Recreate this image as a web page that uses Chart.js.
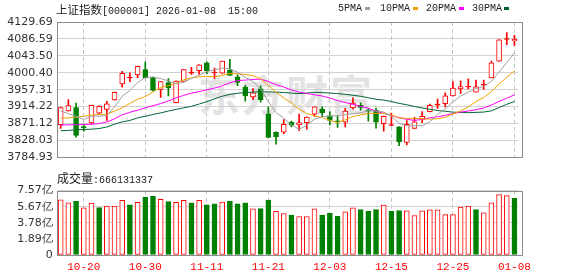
<!DOCTYPE html>
<html>
<head>
<meta charset="utf-8">
<script src="https://cdn.jsdelivr.net/npm/chart.js@4/dist/chart.umd.min.js"></script>
<style>
  body { margin: 0; width: 578px; height: 276px; overflow: hidden; position: relative; background: #fff; }
  canvas { position: absolute; left: 0; }
  .txt { position: absolute; white-space: pre; color: #222; }
  .cn { font-family: "Noto Sans CJK SC", sans-serif; }
  .mono { font-family: "Liberation Mono", monospace; font-size: 10px; }
  .sw { position: absolute; width: 5px; height: 3px; }
  #wm { position: absolute; left: 198px; top: 62px; font: bold 42px "Noto Sans CJK SC", sans-serif; color: #e3e3e3; letter-spacing: 2px; }
</style>
</head>
<body>
<div id="wm">东方财富</div>
<canvas id="price" width="578" height="168" style="top:0"></canvas>
<canvas id="vol" width="578" height="96" style="top:180px"></canvas>

<div class="txt" style="left:56px;top:0px;line-height:17px"><span class="cn" style="font-size:11.5px">上证指数</span><span class="mono">[000001] 2026-01-08  15:00</span></div>

<div class="txt mono" style="left:338px;top:1px;line-height:15px">5PMA</div>
<div class="sw" style="left:365px;top:7px;background:#a0a0a0"></div>
<div class="txt mono" style="left:380px;top:1px;line-height:15px">10PMA</div>
<div class="sw" style="left:413px;top:7px;background:#f0a000"></div>
<div class="txt mono" style="left:426px;top:1px;line-height:15px">20PMA</div>
<div class="sw" style="left:459px;top:7px;background:#ff00ff"></div>
<div class="txt mono" style="left:472px;top:1px;line-height:15px">30PMA</div>
<div class="sw" style="left:504px;top:7px;background:#006633"></div>

<div class="txt" style="left:57px;top:169px;line-height:17px"><span class="cn" style="font-size:12px">成交量</span><span class="mono">:666131337</span></div>

<script>
// trading days shown on the chart
const dates = [
  '10-15','10-16','10-17','10-20','10-21','10-22','10-23','10-24','10-27','10-28',
  '10-29','10-30','10-31','11-03','11-04','11-05','11-06','11-07','11-10','11-11',
  '11-12','11-13','11-14','11-17','11-18','11-19','11-20','11-21','11-24','11-25',
  '11-26','11-27','11-28','12-01','12-02','12-03','12-04','12-05','12-08','12-09',
  '12-10','12-11','12-12','12-15','12-16','12-17','12-18','12-19','12-22','12-23',
  '12-24','12-25','12-26','12-29','12-30','12-31','01-05','01-06','01-07','01-08'
];

const opens = [
  3868.58, 3903.06, 3911.98, 3862.00, 3872.44, 3897.51, 3907.15, 3931.26, 3972.25, 3987.00,
  3994.67, 4008.42, 3988.16, 3957.79, 3975.39, 3924.03, 3978.52, 3999.60, 4006.01, 4026.02,
  3999.80, 3999.50, 4007.45, 3989.85, 3964.05, 3939.22, 3959.23, 3895.82, 3849.29, 3849.29,
  3874.85, 3867.61, 3873.40, 3895.10, 3907.88, 3891.00, 3878.22, 3874.85, 3911.01, 3917.52,
  3905.00, 3905.47, 3870.99, 3866.20, 3862.79, 3822.77, 3858.93, 3881.36, 3901.37, 3918.00,
  3921.62, 3941.63, 3959.23, 3964.20, 3951.28, 3968.60, 3987.44, 4030.12, 4085.20, 4082.00
];
const highs = [
  3913.00, 3931.99, 3923.07, 3869.30, 3918.00, 3916.00, 3927.89, 3951.00, 4004.32, 4000.22,
  4017.50, 4028.43, 3989.50, 3978.30, 3985.75, 3980.00, 4009.00, 4013.96, 4021.00, 4028.43,
  4012.27, 4030.50, 4034.94, 3995.40, 3968.15, 3960.20, 3967.43, 3913.42, 3850.00, 3881.36,
  3877.26, 3895.10, 3888.00, 3914.00, 3913.42, 3901.37, 3891.00, 3909.57, 3936.81, 3924.03,
  3909.57, 3910.29, 3890.00, 3897.51, 3863.50, 3878.95, 3886.90, 3901.37, 3920.66, 3933.68,
  3949.59, 3977.80, 3980.21, 3985.03, 3981.90, 3981.90, 4030.12, 4085.00, 4102.45, 4095.94
];
const lows = [
  3858.93, 3902.50, 3836.27, 3851.70, 3869.30, 3896.00, 3878.95, 3930.50, 3964.05, 3977.80,
  3988.16, 3987.00, 3954.00, 3937.53, 3941.63, 3923.50, 3978.00, 3996.36, 3996.36, 3997.81,
  3985.75, 3999.00, 3993.50, 3967.43, 3927.89, 3931.99, 3925.48, 3834.50, 3818.67, 3845.19,
  3862.79, 3853.15, 3856.52, 3889.31, 3889.31, 3867.61, 3861.35, 3862.79, 3907.88, 3905.47,
  3877.26, 3859.66, 3851.70, 3865.20, 3814.57, 3816.98, 3858.00, 3873.40, 3901.00, 3909.57,
  3913.42, 3941.00, 3948.14, 3959.23, 3951.00, 3957.79, 3987.00, 4029.50, 4071.83, 4070.14
];
const closes = [
  3911.98, 3916.80, 3841.10, 3860.80, 3917.52, 3915.11, 3921.62, 3950.55, 3998.77, 3989.40,
  4017.10, 3987.44, 3955.37, 3977.80, 3961.64, 3979.48, 4008.42, 4001.90, 4020.47, 4006.01,
  4002.00, 4030.12, 3993.95, 3976.11, 3941.63, 3949.59, 3931.99, 3835.55, 3837.24, 3869.30,
  3866.89, 3873.40, 3887.87, 3913.42, 3898.96, 3878.95, 3875.81, 3903.06, 3923.07, 3911.98,
  3902.80, 3874.85, 3889.31, 3868.40, 3825.18, 3869.30, 3875.81, 3889.31, 3917.52, 3920.20,
  3941.63, 3961.64, 3965.02, 3966.40, 3964.30, 3970.80, 4026.02, 4084.60, 4087.40, 4085.40
];

// volume in 亿 shares
const volumes = [
  6.49, 6.12, 6.31, 5.53, 6.09, 5.57, 5.75, 5.75, 6.42, 5.90,
  6.20, 6.79, 6.90, 6.53, 6.27, 6.20, 6.42, 6.12, 6.42, 5.90,
  6.01, 6.23, 6.35, 6.01, 6.12, 5.42, 5.46, 6.46, 5.12, 4.86,
  4.68, 4.53, 4.53, 5.42, 4.68, 4.90, 4.56, 5.08, 5.53, 5.34,
  5.12, 5.34, 5.86, 5.12, 5.23, 5.20, 4.64, 5.20, 5.31, 5.31,
  4.75, 4.75, 5.64, 5.75, 5.34, 4.97, 6.12, 7.09, 6.98, 6.66
];

// moving average values before enough closes are on screen
const ma5Lead = [3903.0, 3896.7, 3889.6, 3881.4];
const ma10Lead = [3884.8, 3885.5, 3887.2, 3889.6, 3892.7, 3894.4, 3895.1, 3902.9, 3911.3];
const ma20Lead = [3867.1, 3868.0, 3868.0, 3868.8, 3869.5, 3871.1, 3875.2, 3883.1, 3893.4, 3899.8,
  3905.4, 3911.1, 3916.6, 3922.1, 3928.6, 3936.5, 3943.0, 3948.5, 3952.5];
const ma30Lead = [3852.7, 3853.6, 3855.1, 3856.0, 3856.8, 3858.4, 3862.3, 3869.5, 3875.2, 3879.1,
  3885.5, 3889.6, 3894.4, 3898.2, 3903.0, 3907.1, 3911.1, 3915.0, 3920.7, 3926.9,
  3934.1, 3940.6, 3945.4, 3948.2, 3950.1, 3951.3, 3952.0, 3951.8, 3951.1];

const priceTicks = ['3784.93','3828.03','3871.12','3914.22','3957.31','4000.40','4043.50','4086.59','4129.69'];
const volTicks = ['0','1.89亿','3.78亿','5.67亿','7.57亿'];

const RED = '#ff0000';
const GREEN = '#008000';

function movingAvg(n, lead) {
  return closes.map((c, i) => {
    if (i < n - 1) return lead[i];
    let s = 0;
    for (let k = i - n + 1; k <= i; k++) s += closes[k];
    return s / n;
  });
}

const isUp = closes.map((c, i) => c >= opens[i]);
const candleColor = isUp.map(u => u ? RED : GREEN);
const bodyFill = closes.map((c, i) => {
  if (!isUp[i]) return GREEN;
  return Math.abs(c - opens[i]) < 3 ? RED : '#ffffff';
});
const volUp = closes.map((c, i) => i === 0 ? isUp[0] : c >= closes[i - 1]);

const labeled = i => (i - 3) % 8 === 0;
const gridX = ctx => labeled(ctx.index) ? '#c4c4c4' : 'rgba(0,0,0,0)';
const axisFont = { family: 'DejaVu Sans', size: 11 };

const frame = {
  id: 'frame',
  afterDraw(chart) {
    const a = chart.chartArea;
    const c = chart.ctx;
    c.save();
    c.strokeStyle = '#8c8c8c';
    c.lineWidth = 1;
    c.strokeRect(Math.round(a.left) + 0.5, Math.round(a.top) + 0.5,
      Math.round(a.right + 4 - a.left), Math.round(a.bottom - a.top));
    c.restore();
  }
};

const lineSet = (label, data, color) => ({
  type: 'line', label, data, borderColor: color, borderWidth: 1,
  pointRadius: 0, tension: 0, order: 0
});

new Chart(document.getElementById('price'), {
  type: 'bar',
  data: {
    labels: dates,
    datasets: [
      lineSet('5PMA', movingAvg(5, ma5Lead), '#a0a0a0'),
      lineSet('10PMA', movingAvg(10, ma10Lead), '#f0a000'),
      lineSet('20PMA', movingAvg(20, ma20Lead), '#ff00ff'),
      lineSet('30PMA', movingAvg(30, ma30Lead), '#006633'),
      {
        label: 'wick', data: lows.map((l, i) => [l, highs[i]]),
        backgroundColor: candleColor, barThickness: 1, grouped: false, order: 2
      },
      {
        label: 'body', data: opens.map((o, i) => [o, closes[i]]),
        backgroundColor: bodyFill, borderColor: candleColor, borderWidth: 1,
        borderSkipped: false, barThickness: 5, minBarLength: 1, grouped: false, order: 1
      }
    ]
  },
  options: {
    responsive: false,
    animation: false,
    layout: { padding: { top: 22, right: 59.7, bottom: 2, left: 0 } },
    plugins: { legend: { display: false }, tooltip: { enabled: false } },
    scales: {
      x: {
        offset: true,
        grid: { offset: false, color: gridX, drawTicks: false },
        border: { display: false, dash: [4, 3] },
        ticks: { display: false, autoSkip: false },
        afterFit: s => { s.height = 0; }
      },
      y: {
        min: 3784.93, max: 4129.69,
        ticks: { stepSize: 43.095, autoSkip: false, callback: (v, i) => priceTicks[i], padding: 4, font: axisFont, color: '#333' },
        grid: { color: '#d2d2d2', drawTicks: false },
        border: { display: false },
        afterFit: s => { s.width = 56.85; }
      }
    }
  },
  plugins: [frame]
});

new Chart(document.getElementById('vol'), {
  type: 'bar',
  data: {
    labels: dates,
    datasets: [{
      label: '成交量', data: volumes,
      backgroundColor: volUp.map(u => u ? '#ffffff' : GREEN),
      borderColor: volUp.map(u => u ? RED : GREEN),
      borderWidth: 1, borderSkipped: false, barThickness: 5
    }]
  },
  options: {
    responsive: false,
    animation: false,
    layout: { padding: { top: 7, right: 59.7, bottom: 0, left: 0 } },
    plugins: { legend: { display: false }, tooltip: { enabled: false } },
    scales: {
      x: {
        offset: true,
        grid: { offset: false, color: gridX, drawTicks: false },
        border: { display: false, dash: [4, 3] },
        ticks: {
          autoSkip: false, maxRotation: 0, padding: 5, color: RED,
          font: { family: 'Liberation Mono', size: 11 },
          callback: (v, i) => labeled(i) ? dates[i] : ''
        },
        afterFit: s => { s.height = 21; }
      },
      y: {
        min: 0, max: 7.57,
        ticks: { stepSize: 1.8925, autoSkip: false, callback: (v, i) => volTicks[i], padding: 4, font: axisFont, color: '#333' },
        grid: { color: '#d2d2d2', drawTicks: false },
        border: { display: false },
        afterFit: s => { s.width = 56.85; }
      }
    }
  },
  plugins: [frame]
});
</script>
</body>
</html>
